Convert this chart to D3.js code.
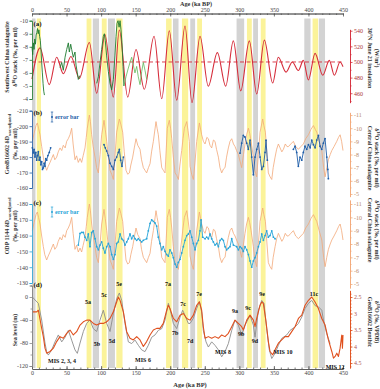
<!DOCTYPE html>
<html><head><meta charset="utf-8">
<script src="https://cdn.jsdelivr.net/npm/d3@7"></script>
<style>body{margin:0;background:#fff}svg{display:block;font-family:"Liberation Serif","Times New Roman",serif}</style>
</head><body><svg id="c" width="380" height="389"></svg>
<script>
// ---------------- DATA ----------------
const xTicks = [0,50,100,150,200,250,300,350,400,450];
const grayBands = [[0,5],[88,97],[110,120],[204,212],[229,236],[296,307],[320,327],[394,403],[415,424]];
const yellowBands = [[7,13],[79,86],[101,108],[122,131],[194,202],[217,226],[239,246],[311,318],[331,338],[406,414]];

// (a) 30N June 21 insolation (W/m2)
const insolation = [[0,478],[11.6,518],[25,471],[35.7,506],[45.3,485],[56.4,507],[68.5,479],[83,525],[93.6,460],[105.6,535],[117.7,455],[126.3,541],[138.5,455],[150.5,516],[162.5,465],[176.6,533],[187.7,453],[198.7,540],[209.4,451],[221.4,546],[231.5,448],[243.1,533],[255.1,469],[268.2,512],[280.3,469],[291.3,527],[302,463],[314.5,527],[325.2,459],[336.2,528],[348.3,473],[356.4,506],[367.6,487],[376.7,500],[385.4,489],[392.6,502],[399.9,477],[409.6,511],[420.7,483],[430.2,502],[437.5,483],[445.7,500],[450,494]];
const insolationMean = 500;
// (a) Southwest China stalagmite d18O stack
const swDark1 = [[0,-8.0],[1,-7.4],[2,-8.3],[3,-7.8],[4,-8.6],[5,-8.2],[6,-8.9],[7,-9.1],[8,-9.4],[9,-9.0],[10,-9.3],[11,-8.8],[12,-8.5],[13,-7.8],[14,-6.8],[15,-6.0],[16,-5.2],[17,-4.6],[18,-4.3]];
const swDark2 = [[40.5,-6.4],[43,-6.8],[45.3,-6.2],[47.8,-7.2],[50.2,-7.8],[52.6,-8.3],[54,-7.6],[56,-8.2],[57.4,-7.8],[59.8,-7.2],[62.2,-7.6],[63.7,-6.6],[65.6,-6.0],[67,-5.5],[69.5,-5.8]];
const swDark3 = [[93.6,-5.2],[96,-5.7],[98.4,-6.8],[100.8,-7.8],[103.2,-8.8],[104.7,-9.0],[106,-8.5],[108,-7.3],[110.5,-6.1],[112.9,-5.2],[115.3,-4.7],[117.7,-5.5],[120,-7.3],[121.6,-8.8],[123,-9.8],[124.5,-10.0],[126,-9.5],[127.4,-10.0],[128.8,-9.3],[130.2,-8.3],[131.7,-6.5],[133,-5.0]];
const swLight = [[133,-5.0],[136,-5.7],[139,-6.3],[141.8,-6.8],[144.2,-7.2],[146.6,-6.6],[149,-6.0],[151.5,-6.5],[153.8,-5.7],[156.3,-5.1],[158.7,-6.1],[161.1,-6.8],[163.5,-6.2],[166,-5.5]];

// (b),(c) Central China stalagmite d18O stack
const centralChina = [[0.5,-9.0],[3,-9.6],[5.8,-10.2],[7.7,-10.4],[9.5,-10.0],[11.6,-9.5],[14,-8.6],[16.4,-7.8],[18.5,-7.2],[21.2,-6.8],[23.5,-7.1],[26.1,-7.4],[28.5,-7.7],[30.9,-8.0],[33,-7.6],[35.7,-7.8],[38,-8.2],[40.5,-8.5],[43,-8.3],[45.3,-8.7],[48,-8.5],[50.2,-9.0],[52.5,-9.2],[55,-9.5],[57.4,-10.0],[59.5,-8.8],[62.2,-7.6],[64.5,-7.9],[67,-7.4],[69.5,-7.7],[71.8,-7.4],[74,-7.9],[76.7,-8.5],[78.5,-9.3],[80,-10.0],[83,-11.0],[84.5,-10.5],[86.3,-9.5],[88.5,-8.6],[91.2,-7.8],[93.5,-7.0],[96,-6.6],[98.5,-8.0],[100.8,-9.5],[104.2,-10.6],[106,-9.9],[108.1,-9.0],[110.5,-7.8],[112.9,-6.8],[115.3,-6.5],[117.7,-6.1],[120,-7.8],[122.5,-9.7],[126.4,-10.7],[128.5,-10.3],[131.2,-9.7],[133.5,-8.2],[136,-6.8],[138.5,-6.5],[140.9,-6.6],[143,-7.2],[145.7,-7.8],[148,-8.5],[150.5,-9.2],[153,-8.7],[156.3,-8.4],[158.5,-7.6],[161.1,-7.0],[163.5,-6.8],[165.9,-6.6],[168.5,-7.0],[170.8,-7.3],[173,-8.2],[175.6,-9.0],[179.4,-10.5],[181,-10.0],[182.8,-9.5],[185,-8.3],[187.7,-7.0],[190,-6.8],[192.5,-6.6],[195.8,-10.0],[198.7,-10.6],[200.5,-10.0],[202.2,-9.2],[204.5,-7.8],[207,-6.6],[209.5,-6.4],[211.8,-6.1],[214,-7.2],[216.6,-8.3],[218.5,-9.2],[220.5,-10.0],[223.9,-10.5],[225.8,-9.8],[227.7,-9.0],[228.7,-7.1],[231,-6.5],[233.5,-6.1],[236,-7.5],[238.3,-9.0],[242.2,-10.4],[245.5,-9.5],[248,-9.0],[250.4,-8.8],[253,-9.3],[255.2,-9.2],[257.5,-8.7],[260,-8.5],[262.5,-9.1],[264.8,-9.0],[267,-8.4],[269.7,-7.8],[272,-7.0],[274.5,-6.6],[277,-6.9],[279.3,-7.0],[281.5,-7.8],[284.1,-8.5],[286.5,-9.0],[289,-9.2],[291.5,-8.8],[293.8,-8.6],[296,-8.3],[298.6,-8.0],[301,-7.5],[303.4,-7.0],[306,-8.0],[308.2,-8.8],[310.5,-9.5],[313.1,-10.0],[315,-9.6],[317,-9.0],[320.3,-7.8],[322.5,-6.8],[325.1,-6.3],[327.5,-8.0],[330,-9.7],[333.8,-10.7],[335.5,-10.2],[337.7,-9.7],[340,-8.0],[342,-6.6],[344.5,-6.3],[346.9,-6.1],[349,-7.0],[351.7,-7.8],[354,-8.4],[356.5,-8.8],[359,-8.5],[361.5,-8.2],[363.8,-8.4],[366.5,-8.8],[369,-8.6],[371,-8.6],[374.5,-8.8],[378.2,-9.0],[381.5,-8.6],[385.5,-8.4],[389,-8.6],[392.7,-8.8],[396,-9.2],[400,-9.5],[403.5,-9.9],[407.2,-10.2],[410,-9.9],[412,-9.7],[415.5,-9.0],[419.3,-8.3],[422,-7.0],[424.1,-6.3],[426.5,-7.0],[428.9,-7.6],[431.5,-8.0],[433.8,-8.3],[437,-8.6],[441,-9.0],[443.5,-9.3],[445.8,-9.5],[448,-9.0],[450,-8.3]];

// (b) GeoB16602 dD wax-adjusted
const geoB1 = [[0.5,-186],[1.9,-182.7],[3,-185],[4.3,-180],[5.5,-183],[6.8,-178],[8,-181],[9.2,-183.5],[10.4,-178],[11.6,-180],[12.8,-175],[14,-177],[15.2,-172],[16.4,-173],[17.6,-176],[18.8,-174],[20,-179],[21.2,-178],[23,-181],[25,-183],[27,-186]];
const geoB2 = [[104.2,-188],[106,-186],[108,-184],[110.5,-181],[112.9,-176],[115.3,-174],[117.7,-172],[120.1,-178],[122.5,-180],[124.9,-183],[126.4,-185],[128.3,-178],[130.2,-174],[132.2,-180]];
const geoB3 = [[301,-182.5],[303.4,-189],[305.8,-194],[308.2,-193],[310.7,-189],[313,-185],[315.5,-191],[317.9,-180],[320.3,-168.5],[322.7,-180],[325.2,-185],[327.6,-189],[330,-180],[332.4,-172],[334.8,-174],[337.2,-183],[338.6,-191],[340.5,-178]];
const geoB4 = [[378.2,-185],[380.6,-187],[383,-183],[385.4,-174],[387.8,-180],[390.3,-178],[392.6,-183],[395,-187],[397.5,-185],[400,-188],[402.5,-186],[404.8,-191],[407.2,-188],[409.6,-186],[412,-191],[414.4,-194],[416.8,-187],[419.2,-185],[421.6,-189],[424,-192],[426.5,-180],[428,-172],[428.8,-166]];

// (c) ODP 1144 dD wax-adjusted
const odp1144 = [[67.0,-154],[69.5,-161.4],[72,-162],[74.3,-162],[76.7,-159],[79.1,-157],[81.5,-161],[83.9,-153],[86.3,-162],[88.7,-163],[91.2,-158],[93.6,-153],[96,-151],[98.4,-154],[100.8,-156],[103.2,-152],[105.6,-149],[108.1,-153],[110.5,-155],[112.9,-153],[115.3,-148],[117.7,-145],[120.1,-148],[122.5,-155],[124.9,-156],[127.4,-161],[129.8,-158],[132.2,-157],[134.6,-154],[137,-156],[139.4,-158],[141.8,-161],[144.2,-158],[146.6,-160],[149.1,-158],[151.5,-157],[153.9,-158],[156.3,-157],[158.7,-156],[161.1,-157],[165.9,-158],[168.3,-163],[170.8,-167.7],[173.2,-170],[175.6,-169],[178,-168],[180.4,-166],[182.8,-159],[185.2,-155],[187.7,-151],[190,-153],[192.5,-150],[194.9,-148],[197.3,-147],[199.7,-151],[202.2,-149],[204.5,-146],[207,-142],[209.4,-140],[211.7,-143],[214.2,-145],[216.6,-149],[219,-153],[221.4,-157],[223.9,-160],[226.2,-161],[228.7,-163],[231.1,-159],[233.5,-155],[235.9,-151],[238.3,-155],[240.7,-157],[243.1,-163],[244.6,-170],[247,-159],[250.4,-158],[252.8,-159],[255.2,-158],[257.6,-161],[260,-158],[262.4,-156],[264.8,-154],[267.2,-155],[269.7,-153],[272.1,-157],[274.5,-158],[276.9,-157],[279.3,-153],[281.7,-151],[284.1,-152],[286.5,-153],[289,-158],[291.4,-154],[296.2,-153],[298.6,-151],[301,-153],[303.4,-152],[305.8,-150],[308.2,-153],[310.7,-151],[313.1,-148],[315.5,-144],[317.9,-140],[320.3,-144],[322.7,-146],[325.1,-149],[327.6,-153],[330,-156],[332.4,-161],[334.8,-157],[337.2,-160],[339.6,-163],[342,-159],[344.4,-160],[346.9,-163],[349.3,-159],[351.7,-158]];

// (d) Sea level (m)
const seaLevel = [[0.5,0],[4.3,-5],[9.2,-11],[14,-40],[18.8,-80],[21.2,-95],[23.6,-101],[28.5,-92],[33.3,-78],[38.1,-66],[43,-78],[47.8,-70],[52.6,-58],[57.4,-75],[62.2,-92],[65.6,-98],[69.5,-80],[74.3,-60],[79.1,-46],[83.9,-40],[88.7,-55],[93.6,-60],[98.4,-40],[103.2,-23],[108.1,-46],[112.9,-60],[117.7,-29],[122.5,-3],[126.4,7],[129.8,-6],[134.6,-46],[139.4,-78],[144.2,-81],[149.1,-75],[153.9,-84],[158.7,-92],[163.5,-95],[168.3,-84],[173.2,-70],[178,-66],[182.8,-58],[187.7,-55],[192.5,-40],[197.3,-11],[200.7,-26],[204.5,-46],[209.4,-55],[214.2,-35],[218,-23],[221.4,-32],[226.2,-46],[228.7,-46],[233.5,-37],[238.3,-20],[242.2,-8],[245.5,-26],[247.9,-58],[251.8,-78],[255.2,-87],[260,-78],[264.8,-84],[269.7,-92],[274.5,-104],[279.3,-95],[284.1,-81],[289,-58],[293.8,-40],[298.6,-49],[303.4,-66],[308.2,-49],[315.5,-32],[320.3,-49],[322.7,-70],[327.6,-23],[332.4,-6],[335.7,-11],[339.6,-55],[343.4,-92],[346.9,-107],[351.7,-98],[356.5,-84],[361.3,-72],[368.6,-66],[373.4,-58],[380.6,-52],[385.5,-46],[390.3,-35],[395.1,-20],[400,-11],[404.8,-6],[409.6,-15],[414.4,-17],[419.3,-23],[421.7,-40],[426.5,-64],[431.3,-81]];
// (d) GeoB16602 benthic d18O
const benthic = [[0.5,2.95],[6.8,2.95],[9.2,2.9],[14,3.45],[16.4,3.7],[18.8,4.05],[21.2,4.2],[26.1,4.15],[30.9,4.05],[35.7,3.85],[40.5,3.7],[45.3,3.75],[50.2,3.6],[55,3.5],[59.8,3.65],[64.6,3.55],[69.5,3.35],[74.3,3.25],[79.1,3.2],[83.9,3.2],[88.7,3.3],[93.6,3.35],[98.4,3.3],[103.2,3.3],[108.1,3.25],[112.9,3.15],[117.7,2.95],[122.5,2.65],[124.9,2.5],[127.4,2.6],[132.2,2.95],[137,3.55],[141.8,3.75],[146.6,3.8],[151.5,3.7],[156.3,3.8],[161.1,4.0],[165.9,3.85],[170.8,3.65],[175.6,3.5],[180.4,3.45],[185.2,3.45],[190,3.3],[194.9,2.9],[197.3,2.75],[199.7,2.85],[204.5,3.15],[209.4,3.25],[214.2,3.05],[219,3.0],[223.9,3.15],[228.7,3.2],[233.5,3.05],[238.3,2.75],[242.2,2.65],[245.5,2.9],[247.9,3.4],[250.4,3.75],[255.2,3.7],[260,3.75],[264.8,3.7],[269.7,3.75],[274.5,3.65],[279.3,3.7],[284.1,3.6],[289,3.4],[293.8,3.2],[298.6,3.3],[303.4,3.4],[305.8,3.5],[310.7,3.2],[315.5,3.05],[320.3,3.2],[322.7,3.4],[325.1,3.15],[330,2.75],[332.4,2.65],[334.8,2.7],[338.6,3.25],[342,3.85],[344.4,4.15],[348.3,4.25],[351.7,4.1],[356.5,3.9],[361.3,3.8],[366.1,3.7],[371,3.7],[375.8,3.55],[380.6,3.4],[385.5,3.15],[390.3,3.05],[395.1,2.75],[400,2.6],[404.8,2.5],[409.6,2.65],[414.4,2.85],[419.3,3.15],[424.1,3.35],[428.9,3.8],[433.8,4.15],[436.2,4.35],[438.6,4.3],[441,4.2],[443.4,4.3],[445.8,4.05],[448.2,3.65],[449.2,4.05],[450,3.65]];

// (d) stage annotations: [label, age, sea level]
const stageLabels = [["5a",81,-9],["5b",94,-83],["5c",104.2,2],["5d",115.8,-78],["5e",126,21],["MIS 2, 3, 4",43.4,-113],["MIS 6",160.6,-110],["7a",196.8,22],["7b",207,-64],["7c",218.5,-14],["7d",228.7,-78],["7e",241.7,4],["MIS 8",276.4,-96],["9a",293.8,-26],["9b",302.5,-66],["9c",312.6,-21],["9d",322.7,-78],["9e",332.9,5],["MIS 10",363.2,-97],["11c",408,5],["MIS 12",438.5,-122]];

// ---------------- DRAW ----------------
const svg = d3.select("#c");
const x = d3.scaleLinear().domain([0,450]).range([32,343]);
const yA = d3.scaleLinear().domain([-10,-4]).range([20.7,99]);
const yIns = d3.scaleLinear().domain([448,541.7]).range([102.6,29.4]);
const yB = d3.scaleLinear().domain([-210,-160]).range([110.7,188]);
const yBr = d3.scaleLinear().domain([-11.2,-4.8]).range([112.4,196.6]);
const yC = d3.scaleLinear().domain([-180,-130]).range([204,283]);
const yCr = d3.scaleLinear().domain([-11.3,-4.7]).range([200,288]);
const yD = d3.scaleLinear().domain([-120,20]).range([366,285.5]);
const yDr = d3.scaleLinear().domain([2.3,4.65]).range([290.4,368]);

const C = {gray:"#d3d3d3", yellow:"#fbf39a", red:"#d62d3b", green:"#1e7a30", lgreen:"#5fb85a",
  orange:"#f2a878", blue:"#1f5ea8", lblue:"#27a4d8", benth:"#e0501e", sl:"#8c8c8c"};

// bands
const gB = svg.append("g");
gB.selectAll(".g").data(grayBands).join("rect").attr("x",d=>x(d[0])).attr("width",d=>x(d[1])-x(d[0]))
  .attr("y",18.5).attr("height",349.5).attr("fill",C.gray);
gB.selectAll(".y").data(yellowBands).join("rect").attr("x",d=>x(d[0])).attr("width",d=>x(d[1])-x(d[0]))
  .attr("y",18.5).attr("height",349.5).attr("fill",C.yellow);

function drawLine(data, ys, color, w, curve){
  svg.append("path").datum(data).attr("fill","none").attr("stroke",color).attr("stroke-width",w)
    .attr("stroke-linejoin","round")
    .attr("d", d3.line().x(d=>x(d[0])).y(d=>ys(d[1])).curve(curve||d3.curveLinear));
}
function drawDots(data, ys, color, r){
  svg.append("g").selectAll("circle").data(data).join("circle")
    .attr("cx",d=>x(d[0])).attr("cy",d=>ys(d[1])).attr("r",r).attr("fill",color);
}

// (a)
svg.append("line").attr("x1",x(0)).attr("x2",x(450)).attr("y1",yIns(insolationMean)).attr("y2",yIns(insolationMean))
  .attr("stroke",C.red).attr("stroke-width",0.9).attr("stroke-dasharray","4,2.5");
drawLine(insolation, yIns, C.red, 1.1, d3.curveMonotoneX);
drawLine(swLight, yA, C.lgreen, 0.8);
[swDark1, swDark2, swDark3].forEach(s=>drawLine(s, yA, C.green, 0.9));

// (b)
drawLine(centralChina, yBr, C.orange, 0.8);
[geoB1, geoB2, geoB3, geoB4].forEach(s=>{drawLine(s, yB, C.blue, 0.9); drawDots(s, yB, C.blue, 0.9);});

// (c)
drawLine(centralChina, yCr, C.orange, 0.8);
drawLine(odp1144, yC, C.lblue, 0.9); drawDots(odp1144, yC, C.lblue, 0.9);

// (d)
drawLine(seaLevel, yD, C.sl, 0.9);
drawLine(benthic, yDr, C.benth, 1.1);

// axes
const fmt = d=>String(d);
function styleAxis(g, color, labelColor){
  g.selectAll("path,line").attr("stroke",color).attr("stroke-width",0.8);
  g.selectAll("text").attr("fill",labelColor||"#444").attr("font-size",6).attr("font-family","Liberation Serif");
}
const topY = 13.5, botY = 369;
let g = svg.append("g").attr("transform",`translate(0,${topY})`)
  .call(d3.axisTop(x).tickValues(xTicks).tickFormat(fmt).tickSizeInner(-3).tickSizeOuter(0).tickPadding(2));
styleAxis(g,"#555");
g = svg.append("g").attr("transform",`translate(0,${topY})`)
  .call(d3.axisTop(x).tickValues(d3.range(0,451,10)).tickFormat("").tickSizeInner(-1.5).tickSizeOuter(0));
styleAxis(g,"#555");
g = svg.append("g").attr("transform",`translate(0,${botY})`)
  .call(d3.axisBottom(x).tickValues(xTicks).tickFormat(fmt).tickSizeInner(-3).tickSizeOuter(0).tickPadding(2));
styleAxis(g,"#555");
g = svg.append("g").attr("transform",`translate(0,${botY})`)
  .call(d3.axisBottom(x).tickValues(d3.range(0,451,10)).tickFormat("").tickSizeInner(-1.5).tickSizeOuter(0));
styleAxis(g,"#555");

function leftAxis(scale, vals, color){
  const gg = svg.append("g").attr("transform","translate(32,0)")
    .call(d3.axisLeft(scale).tickValues(vals).tickFormat(fmt).tickSize(2.5).tickPadding(1.5));
  styleAxis(gg, color);
}
function rightAxis(scale, vals, minor, color, lc){
  const gg = svg.append("g").attr("transform","translate(350,0)")
    .call(d3.axisRight(scale).tickValues(vals).tickFormat(fmt).tickSizeInner(2.5).tickSizeOuter(0).tickPadding(1.5));
  styleAxis(gg, color, lc);
  if(minor){
    const gm = svg.append("g").attr("transform","translate(350,0)")
      .call(d3.axisRight(scale).tickValues(minor).tickFormat("").tickSizeInner(1.5).tickSizeOuter(0));
    styleAxis(gm, color);
  }
}
leftAxis(yA, d3.range(-10,-3.5,1), C.green);
leftAxis(yB, d3.range(-210,-159,10), C.blue);
leftAxis(yC, d3.range(-180,-129,10), C.lblue);
leftAxis(yD, [-120,-80,-40,0], "#888");
svg.append("g").attr("transform","translate(32,0)")
  .call(d3.axisLeft(yD).tickValues([-100,-60,-20,20]).tickFormat("").tickSize(1.5))
  .call(gg=>styleAxis(gg,"#888"));

rightAxis(yIns, [460,480,500,520,540], [450,470,490,510,530], C.red, "#a33");
rightAxis(yBr, d3.range(-11,-4.5,1), d3.range(-10.5,-5,1), C.orange, "#b98a6a");
rightAxis(yCr, d3.range(-11,-4.5,1), d3.range(-10.5,-5,1), C.orange, "#b98a6a");
rightAxis(yDr, [2.5,3,3.5,4,4.5], d3.range(2.4,4.65,0.1).map(d=>+d.toFixed(1)), C.benth, "#a55");

// text
const T = svg.append("g").attr("font-family","Liberation Serif").attr("font-weight","bold");
function rotText(xp, yp, ang, parts, size, color){
  const t = T.append("text").attr("transform",`translate(${xp},${yp}) rotate(${ang})`)
    .attr("text-anchor","middle").attr("font-size",size).attr("fill",color);
  parts.forEach(p=>{
    const s = t.append("tspan").text(p[0]);
    if(p[1]==="sup"){ s.attr("baseline-shift","super").attr("font-size",size*0.7); }
    if(p[1]==="sub"){ s.attr("baseline-shift","sub").attr("font-size",size*0.65); }
  });
}
const tc = "#333";
rotText(8.5,57,-90,[["Southwest China stalagmite"]],6,tc);
rotText(16.5,57,-90,[["δ"],["18","sup"],["O stack (‰, per mil)"]],6,tc);
rotText(8.5,144,-90,[["GeoB16602 δD"],["wax-adjusted","sub"]],6,tc);
rotText(16.5,144,-90,[["(‰, per mil)"]],6,tc);
rotText(8.5,226,-90,[["ODP 1144 δD"],["wax-adjusted","sub"]],6,tc);
rotText(16.5,226,-90,[["(‰, per mil)"]],6,tc);
rotText(16.5,330,-90,[["Sea level (m)"]],6,tc);

rotText(368,58,90,[["30°N June 21 insolation"]],6,tc);
rotText(375,58,90,[["(W/m"],["2","sup"],[")"]],6,tc);
rotText(368,158,90,[["Central China stalagmite"]],6,tc);
rotText(375,158,90,[["δ"],["18","sup"],["O stack (‰, per mil)"]],6,tc);
rotText(368,230,90,[["Central China stalagmite"]],6,tc);
rotText(375,230,90,[["δ"],["18","sup"],["O stack (‰, per mil)"]],6,tc);
rotText(368,322,90,[["GeoB16602 Benthic"]],6,tc);
rotText(375,322,90,[["δ"],["18","sup"],["O (‰, VPDB)"]],6,tc);

// panel letters
[["(a)",26],["(b)",115],["(c)",205],["(d)",287]].forEach(p=>{
  T.append("text").attr("x",33.5).attr("y",p[1]).attr("font-size",7).attr("fill","#111").text(p[0]);
});
// axis titles
T.append("text").attr("x",196).attr("y",5.6).attr("text-anchor","middle").attr("font-size",6.2).attr("fill","#333").text("Age (ka BP)");
T.append("text").attr("x",190).attr("y",387).attr("text-anchor","middle").attr("font-size",6.5).attr("fill","#333").text("Age (ka BP)");

// error bar legends
function errLegend(xp, yc, color){
  const gg = svg.append("g");
  gg.append("line").attr("x1",xp).attr("x2",xp).attr("y1",yc-5).attr("y2",yc+5).attr("stroke",color).attr("stroke-width",0.7);
  gg.append("line").attr("x1",xp-1.2).attr("x2",xp+1.2).attr("y1",yc-5).attr("y2",yc-5).attr("stroke",color).attr("stroke-width",0.7);
  gg.append("line").attr("x1",xp-1.2).attr("x2",xp+1.2).attr("y1",yc+5).attr("y2",yc+5).attr("stroke",color).attr("stroke-width",0.7);
  gg.append("circle").attr("cx",xp).attr("cy",yc).attr("r",1).attr("fill",color);
  T.append("text").attr("x",xp+3).attr("y",yc+2).attr("font-size",6).attr("fill",color).text("error bar");
}
errLegend(52,117,C.blue);
errLegend(52,212,C.lblue);

// stage labels
T.selectAll(".st").data(stageLabels).join("text").attr("x",d=>x(d[1])).attr("y",d=>yD(d[2]))
  .attr("text-anchor","middle").attr("dominant-baseline","middle").attr("font-size",6).attr("fill","#111").text(d=>d[0]);
</script></body></html>
